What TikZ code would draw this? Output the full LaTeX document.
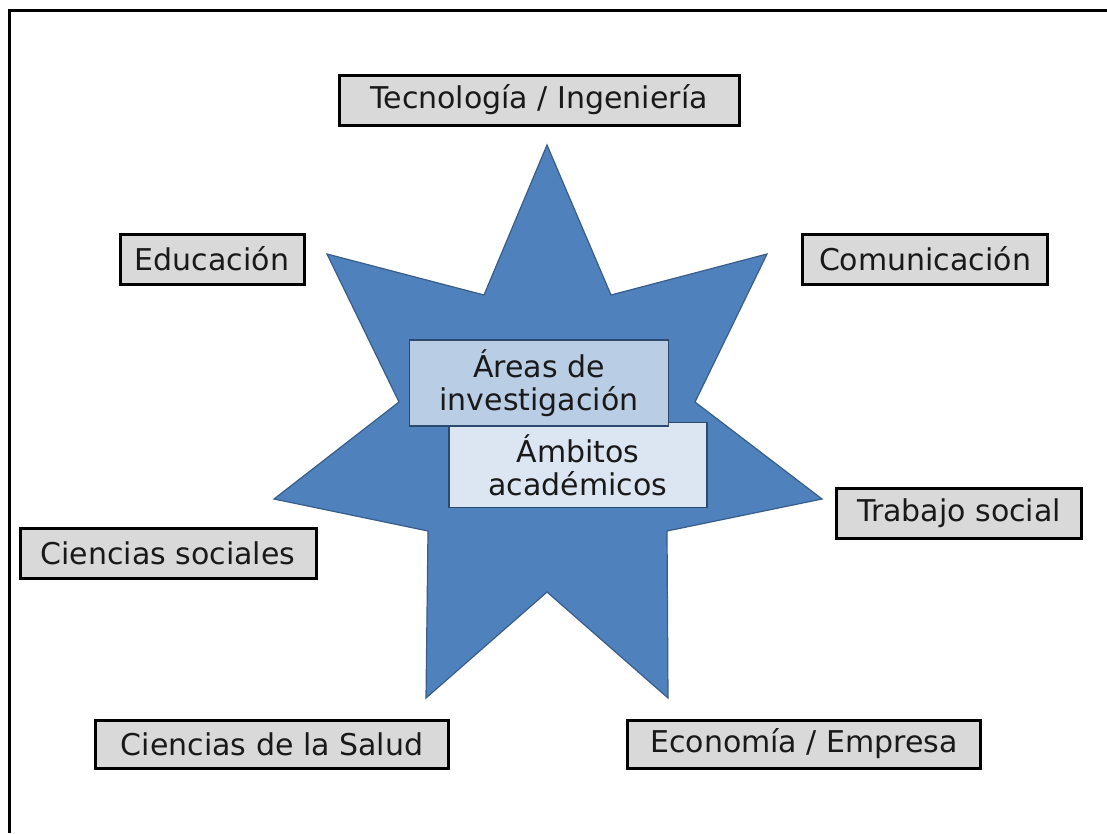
\documentclass[tikz,border=0pt]{standalone}
\usepackage{fontspec}
\setmainfont{DejaVu Sans}
\definecolor{starblue}{HTML}{4F81BD}
\definecolor{stardark}{HTML}{385D8A}
\definecolor{boxgray}{HTML}{D9D9D9}
\definecolor{areablue}{HTML}{B9CDE5}
\definecolor{ambblue}{HTML}{DCE6F2}
\begin{document}
\begin{tikzpicture}[x=1pt,y=-1pt,
	field/.style={draw=black,line width=3pt,fill=boxgray,inner sep=0pt,
		minimum height=50pt,text=black!90,font=\fontsize{30}{34}\selectfont},
	core/.style={draw=stardark!80!black,line width=1.2pt,inner sep=0pt,
		minimum width=258pt,minimum height=85pt,align=center,text=black!90,
		font=\fontsize{30}{33}\selectfont}]
	\useasboundingbox (0,0) rectangle (1107,833);

	% Frame
	\draw[line width=3pt] (9,833) -- (9,10) -- (1107,10);

	% Star
	\filldraw[fill=starblue,draw=stardark,line width=1.2pt]
		(547,145) -- (611,295) -- (767,254) -- (695,402) -- (822,499)
		-- (667,531) -- (668,698) -- (547,592) -- (426,698) -- (428,531)
		-- (274,499) -- (399,402) -- (327,254) -- (484,295) -- cycle;

	% Fields
	\node[field,minimum width=400pt] (tec) at (539,100) {Tecnología / Ingeniería};
	\node[field,minimum width=184pt] (edu) at (212,259) {Educación};
	\node[field,minimum width=245pt] (com) at (925,259) {Comunicación};
	\node[field,minimum width=245pt] (tra) at (959,513) {Trabajo social};
	\node[field,minimum width=296pt] (cso) at (168,553) {Ciencias sociales};
	\node[field,minimum width=353pt,minimum height=48pt] (sal) at (272,744) {Ciencias de la Salud};
	\node[field,minimum width=353pt,minimum height=48pt] (eco) at (804,744) {Economía / Empresa};

	% Centre
	\node[core,fill=ambblue] (amb) at (578,465) {Ámbitos\\académicos};
	\node[core,fill=areablue,minimum width=259pt,minimum height=86pt] (are) at (539,383) {Áreas de\\investigación};
\end{tikzpicture}
\end{document}
